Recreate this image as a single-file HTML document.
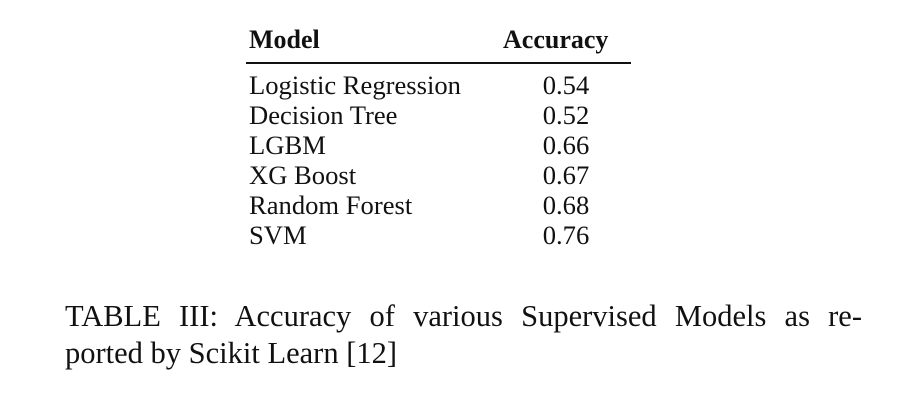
<!DOCTYPE html>
<html><head><meta charset="utf-8"><style>
body{margin:0;width:906px;height:406px;background:#fff;position:relative;font-family:"Liberation Serif",serif;color:#111;overflow:hidden}
.t{position:absolute;white-space:nowrap;line-height:1}
.h{font-weight:bold;font-size:26px}
.r{font-size:26.6px}
.c{font-size:30.5px}
</style></head><body>
<div>
<div class="t h" style="left:249px;top:27px">Model</div>
<div class="t h" style="left:503px;top:27px">Accuracy</div>
<div style="position:absolute;left:246px;top:62px;width:385px;height:1.6px;background:#111"></div>
<div id="rows"></div>
</div>
<div class="t c" style="left:65px;top:301px;width:797px;text-align:justify;text-align-last:justify">TABLE III: Accuracy of various Supervised Models as re-</div>
<div class="t c" style="left:65px;top:338px">ported by Scikit Learn [12]</div>
<script>
const models=["Logistic Regression","Decision Tree","LGBM","XG Boost","Random Forest","SVM"];
const accuracy=["0.54","0.52","0.66","0.67","0.68","0.76"];
const box=document.getElementById('rows');
models.forEach((m,i)=>{
 const a=document.createElement('div');
 a.className='t r';a.style.left='249px';a.style.top=(72+i*30)+'px';a.textContent=m;
 
 
 box.appendChild(a);
 const b=document.createElement('div');
 b.className='t r';b.style.left='516px';b.style.width='100px';b.style.textAlign='center';b.style.top=(72+i*30)+'px';b.textContent=accuracy[i];
 
 
 box.appendChild(b);
});
</script>
</body></html>
